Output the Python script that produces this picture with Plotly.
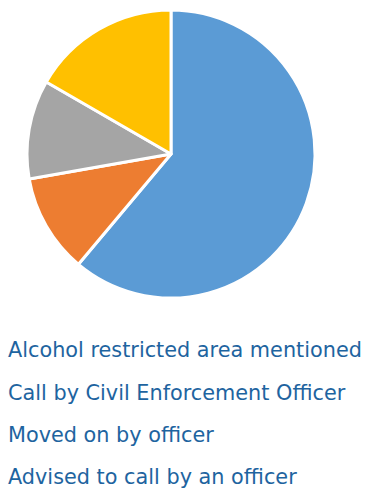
import plotly.graph_objects as go

# Share of each outcome
labels = [
    "Alcohol restricted area mentioned",
    "Call by Civil Enforcement Officer",
    "Moved on by officer",
    "Advised to call by an officer",
]
values = [55, 10, 10, 15]
colors = ["#5B9BD5", "#ED7D31", "#A5A5A5", "#FFC000"]

W, H = 366, 490
cx, cy, r = 171, 154, 144  # pie centre and radius in pixels

fig = go.Figure(
    go.Pie(
        labels=labels,
        values=values,
        sort=False,
        direction="clockwise",
        rotation=0,
        textinfo="none",
        hoverinfo="label+percent",
        marker=dict(colors=colors, line=dict(color="#FFFFFF", width=3)),
        domain=dict(
            x=[(cx - r) / W, (cx + r) / W],
            y=[(H - (cy + r)) / H, (H - (cy - r)) / H],
        ),
        showlegend=False,
    )
)

# Text-only legend below the pie
baselines = [357, 399.5, 442, 484]
for lab, b in zip(labels, baselines):
    fig.add_annotation(
        text=lab,
        xref="paper", yref="paper",
        x=6 / W, y=(H - (b - 7)) / H,
        xanchor="left", yanchor="middle",
        showarrow=False,
        font=dict(family="DejaVu Sans", size=20.8, color="#1E64A0"),
    )

fig.update_layout(
    width=W, height=H,
    margin=dict(l=0, r=0, t=0, b=0),
    paper_bgcolor="#FFFFFF",
    plot_bgcolor="#FFFFFF",
)

fig.write_html("out.html")
